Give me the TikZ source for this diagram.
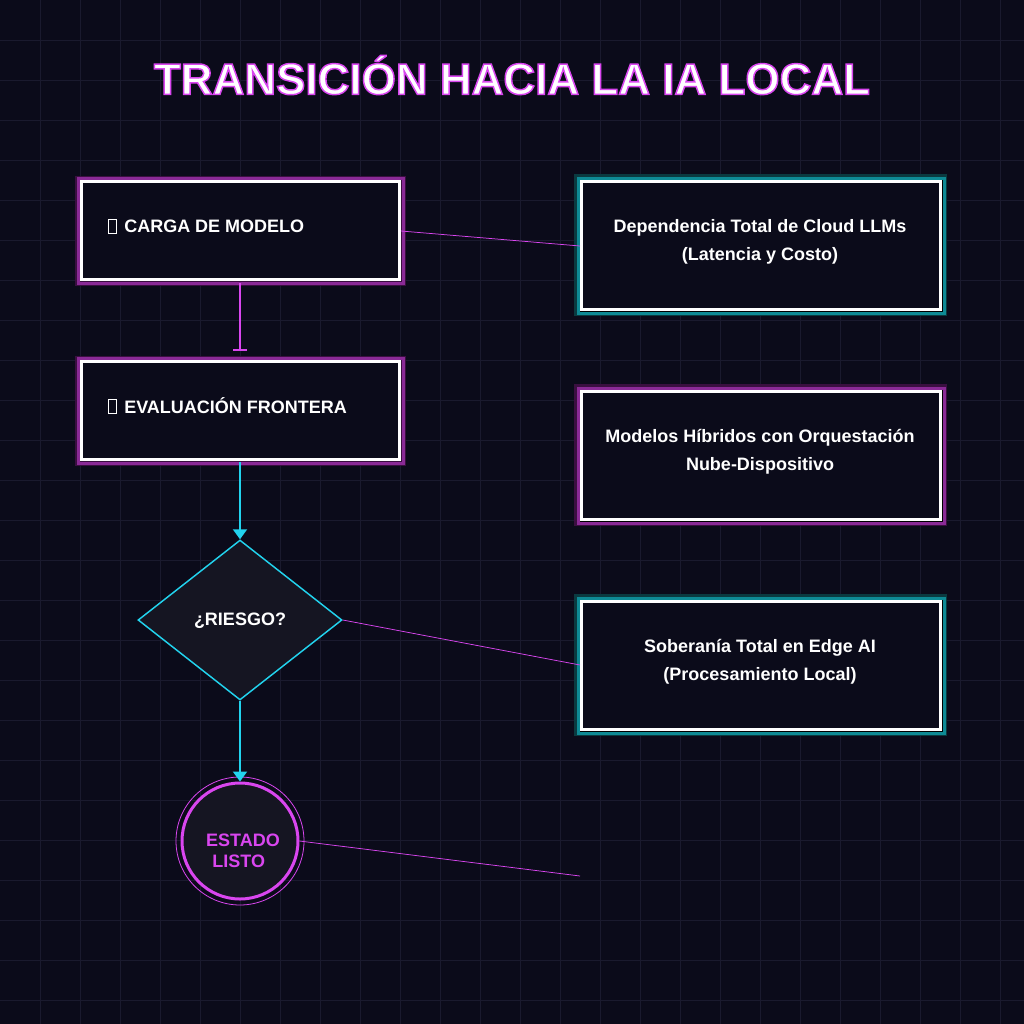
\documentclass[tikz,border=0pt]{standalone}
\usepackage{fontspec}
\setmainfont{Liberation Sans}
\usetikzlibrary{arrows.meta,shapes.geometric}
\definecolor{bg}{HTML}{0B0B1A}
\definecolor{gridc}{HTML}{1A1A2E}
\definecolor{mag}{HTML}{D946EF}
\definecolor{magd}{HTML}{8A2A96}
\definecolor{magdd}{HTML}{3A0F40}
\definecolor{cyan}{HTML}{22D3EE}
\definecolor{teal}{HTML}{0E8A95}
\definecolor{teald}{HTML}{0A3A40}
\definecolor{nodebg}{HTML}{151522}
\tikzset{
  boxtxt/.style={font=\fontsize{13.5}{21}\selectfont\bfseries, text=white, align=center},
  lefttxt/.style={font=\fontsize{13.5}{21}\selectfont\bfseries, text=white, inner sep=0pt, anchor=west},
  link/.style={mag, line width=0.56pt},
  flow/.style={cyan, line width=1.5pt, -{Triangle[width=10.5pt,length=7.5pt]}},
}
\newcommand{\outlinedtxt}[1]{\special{pdf:literal direct q 2 Tr 1.1 w 0.851 0.275 0.937 RG}#1\special{pdf:literal direct Q}}
\begin{document}
\begin{tikzpicture}[x=0.75pt,y=-0.75pt]
\fill[bg] (0,0) rectangle (1024,1024);
\useasboundingbox (0,0) rectangle (1024,1024);
\draw[gridc, line width=0.56pt] \foreach \i in {40,80,...,1000} {(\i,0) -- (\i,1024) (0,\i) -- (1024,\i)};
% title
\node (title) [text=white, font=\fontsize{33}{40}\selectfont\bfseries] at (512,75) {\outlinedtxt{TRANSICIÓN HACIA LA IA LOCAL}};
% left boxes
\foreach \yy/\nm in {180/b1,360/b2}{
  \fill[magdd] (75,\yy-4) rectangle (406,\yy+106);
  \draw[magd, line width=2.25pt] (78,\yy-1.5) rectangle (403,\yy+103);
  \fill[bg] (80,\yy) rectangle (401,\yy+101);
  \draw[white, line width=2.25pt] (81.5,\yy+1.5) rectangle (399.5,\yy+99.5);
}
\node (t1) [lefttxt] at (124,226) {CARGA DE MODELO};
\draw[white, line width=0.6pt] (108,219) rectangle (116,233);
\node (t2) [lefttxt] at (124,406) {EVALUACIÓN FRONTERA};
\draw[white, line width=0.6pt] (108,399) rectangle (116,413);
\coordinate (b1s) at (240,283);
\coordinate (b2n) at (240,351);
\coordinate (b2s) at (240,462);
\coordinate (b1e) at (401,231);
% right boxes
\foreach \yy/\c/\cd in {180/teal/teald,390/magd/magdd,600/teal/teald}{
  \fill[\cd] (574,\yy-6) rectangle (947,\yy+136);
  \fill[black] (577,\yy-3) rectangle (944,\yy+134);
  \draw[\c, line width=2.25pt] (578,\yy-1.5) rectangle (944,\yy+133);
  \fill[bg] (580,\yy) rectangle (942,\yy+131);
  \draw[white, line width=2.25pt] (581.5,\yy+1.5) rectangle (940.5,\yy+129.5);
}
\node (r1) [boxtxt] at (760,242) {Dependencia Total de Cloud LLMs\\(Latencia y Costo)};
\node (r2) [boxtxt] at (760,452) {Modelos Híbridos con Orquestación\\Nube-Dispositivo};
\node (r3) [boxtxt] at (760,662) {Soberanía Total en Edge AI\\(Procesamiento Local)};
\coordinate (r1w) at (580,246);
\coordinate (r3w) at (580,665);
\coordinate (free) at (580,876);
% diamond
\node (d) [diamond, draw=cyan, fill=nodebg, line width=1.1pt, minimum width=153pt, minimum height=120pt, inner sep=0pt] at (240,620) {};
\node (dt) [boxtxt] at (240,621) {¿RIESGO?};
% circle
\node (c) [circle, draw=mag, line width=2.25pt, fill=nodebg, minimum size=87pt] at (240,841) {};
\draw[mag, line width=0.6pt] (c.center) circle[radius=48pt];
\node (ct) [font=\fontsize{13.5}{15.5}\selectfont\bfseries, text=mag, align=left] at (243,851) {ESTADO\\\hspace{0.35em}LISTO};
% connectors
\draw[mag, line width=1.5pt, -{Bar[width=10.5pt]}] (b1s) -- (b2n);
\draw[flow] (b2s) -- (d.north);
\draw[flow] (d.south) -- (c.north);
\draw[link] (b1e) -- (r1w);
\draw[link] (d.east) -- (r3w);
\draw[link] (c.east) -- (free);
\end{tikzpicture}
\end{document}
